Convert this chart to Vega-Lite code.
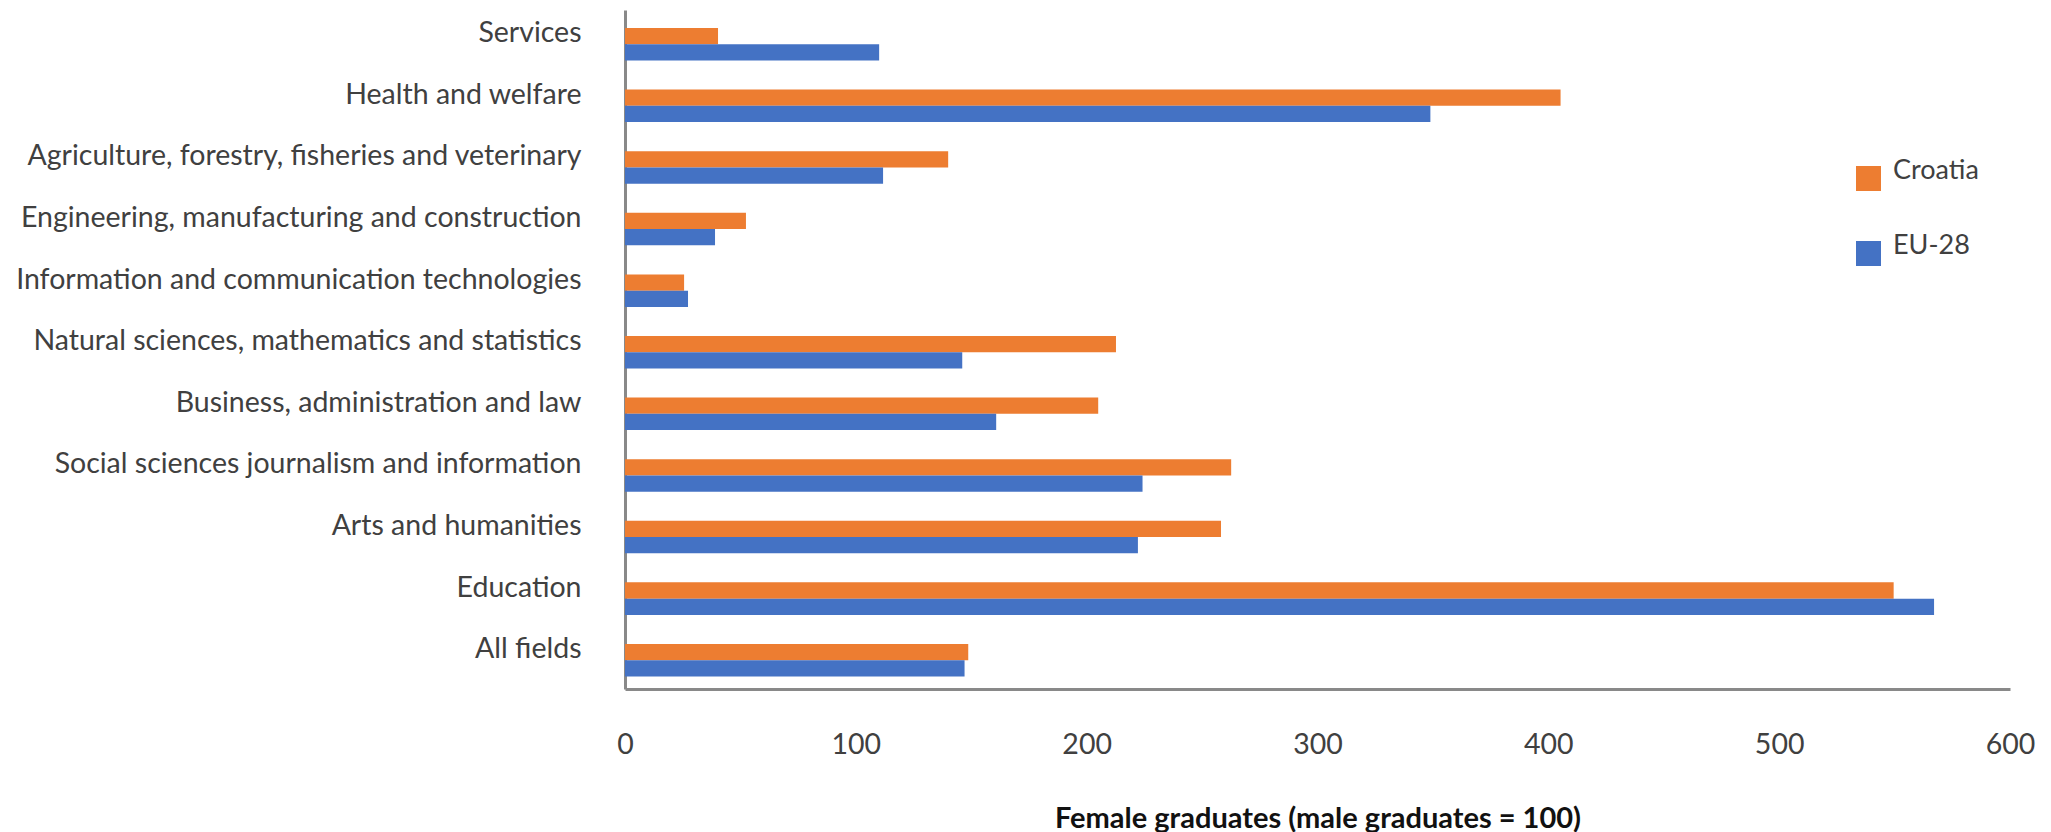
{
  "$schema": "https://vega.github.io/schema/vega-lite/v6.json",
  "width": 1385,
  "height": 679,
  "autosize": {"type": "none"},
  "padding": {"left": 625, "top": 10, "right": 41, "bottom": 143},
  "background": "white",
  "config": {
    "view": {"stroke": null},
    "font": "Lato",
    "axis": {
      "grid": false,
      "ticks": false,
      "tickSize": 0,
      "domainColor": "#898989",
      "domainWidth": 3,
      "labelColor": "#404040",
      "labelFont": "Lato",
      "labelFontSize": 28.5
    }
  },
  "data": {
    "values": [
      {"field": "Services", "series": "Croatia", "value": 40.3},
      {"field": "Services", "series": "EU-28", "value": 110.1},
      {"field": "Health and welfare", "series": "Croatia", "value": 405.3},
      {"field": "Health and welfare", "series": "EU-28", "value": 348.9},
      {"field": "Agriculture, forestry, fisheries and veterinary", "series": "Croatia", "value": 140},
      {"field": "Agriculture, forestry, fisheries and veterinary", "series": "EU-28", "value": 111.8},
      {"field": "Engineering, manufacturing and construction", "series": "Croatia", "value": 52.4},
      {"field": "Engineering, manufacturing and construction", "series": "EU-28", "value": 39},
      {"field": "Information and communication technologies", "series": "Croatia", "value": 25.6},
      {"field": "Information and communication technologies", "series": "EU-28", "value": 27.3},
      {"field": "Natural sciences, mathematics and statistics", "series": "Croatia", "value": 212.7},
      {"field": "Natural sciences, mathematics and statistics", "series": "EU-28", "value": 146.1},
      {"field": "Business, administration and law", "series": "Croatia", "value": 205},
      {"field": "Business, administration and law", "series": "EU-28", "value": 160.8},
      {"field": "Social sciences journalism and information", "series": "Croatia", "value": 262.6},
      {"field": "Social sciences journalism and information", "series": "EU-28", "value": 224.2},
      {"field": "Arts and humanities", "series": "Croatia", "value": 258.2},
      {"field": "Arts and humanities", "series": "EU-28", "value": 222.2},
      {"field": "Education", "series": "Croatia", "value": 549.6},
      {"field": "Education", "series": "EU-28", "value": 567.1},
      {"field": "All fields", "series": "Croatia", "value": 148.7},
      {"field": "All fields", "series": "EU-28", "value": 147.1}
    ]
  },
  "mark": {"type": "bar"},
  "encoding": {
    "y": {
      "field": "field",
      "type": "nominal",
      "sort": [
        "Services",
        "Health and welfare",
        "Agriculture, forestry, fisheries and veterinary",
        "Engineering, manufacturing and construction",
        "Information and communication technologies",
        "Natural sciences, mathematics and statistics",
        "Business, administration and law",
        "Social sciences journalism and information",
        "Arts and humanities",
        "Education",
        "All fields"
      ],
      "scale": {"paddingInner": 0.472, "paddingOuter": 0.2476, "align": 0.59},
      "axis": {
        "title": null,
        "labelPadding": 44,
        "labelOffset": -11,
        "labelLimit": 1000
      }
    },
    "yOffset": {
      "field": "series",
      "type": "nominal",
      "sort": ["Croatia", "EU-28"],
      "scale": {"paddingInner": 0, "paddingOuter": 0}
    },
    "x": {
      "field": "value",
      "type": "quantitative",
      "scale": {"domain": [0, 600], "nice": false},
      "axis": {
        "values": [0, 100, 200, 300, 400, 500, 600],
        "labelPadding": 55,
        "labelBaseline": "middle",
        "labelFlush": false,
        "title": "Female graduates (male graduates = 100)",
        "titleFont": "Lato",
        "titleFontWeight": "bold",
        "titleFontSize": 29,
        "titleColor": "#111111",
        "titleY": 129,
        "titleBaseline": "middle"
      }
    },
    "color": {
      "field": "series",
      "type": "nominal",
      "scale": {"domain": ["Croatia", "EU-28"], "range": ["#ED7D31", "#4472C4"]},
      "legend": {
        "title": null,
        "orient": "none",
        "legendX": 1230,
        "legendY": 155,
        "padding": 0,
        "symbolType": "square",
        "symbolSize": 625,
        "symbolStrokeWidth": 0,
        "labelFontSize": 27,
        "labelFont": "Lato",
        "labelColor": "#404040",
        "labelOffset": 11,
        "labelBaseline": "alphabetic",
        "rowPadding": 40
      }
    }
  }
}
